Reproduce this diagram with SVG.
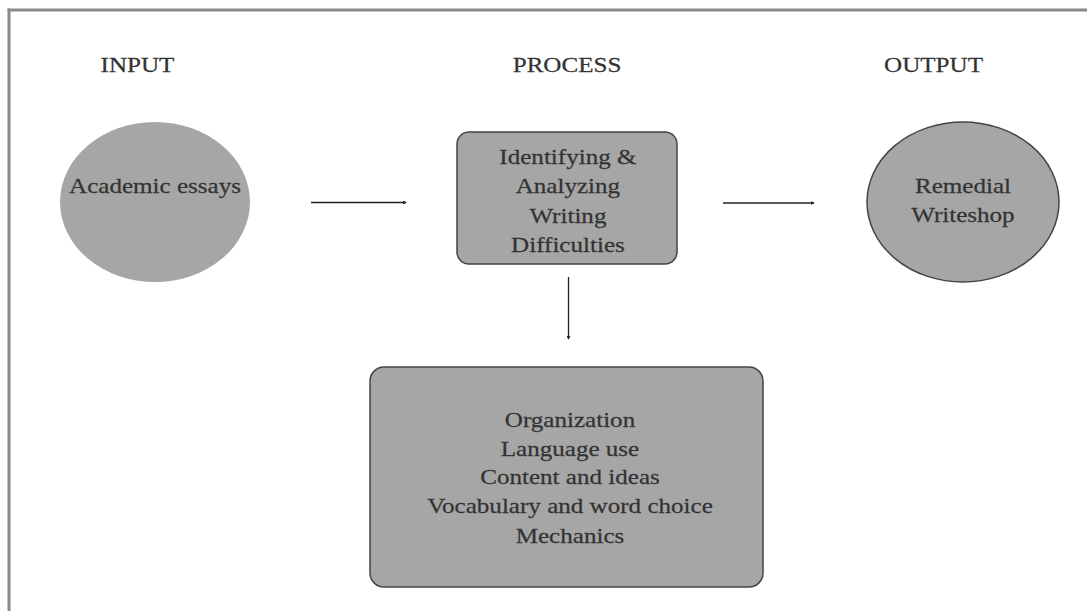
<svg xmlns="http://www.w3.org/2000/svg" width="1087" height="611" viewBox="0 0 1087 611">
<style>
.t{font-family:"Liberation Serif","Times New Roman",serif;font-size:22px;fill:#333;stroke:#333;stroke-width:0.25;text-anchor:middle}
.shape{fill:#a6a6a6}
.edge{stroke:#222;stroke-width:1.3;fill:none;marker-end:url(#dot)}
</style>
<defs>
<marker id="dot" viewBox="0 0 6 6" refX="5" refY="3" markerWidth="4" markerHeight="4" orient="auto" markerUnits="userSpaceOnUse">
<path d="M0,0 L6,3 L0,6 z" fill="#222"/>
</marker>
</defs>
<rect width="1087" height="611" fill="#fff"/>
<g id="frame" stroke="#8a8a8a" stroke-width="3" fill="none">
<line x1="7.5" y1="10" x2="1087" y2="10"/>
<line x1="9" y1="8.5" x2="9" y2="611"/>
</g>
<g id="headings">
<text class="t" transform="scale(1.14 1)" x="120.6" y="72">INPUT</text>
<text class="t" transform="scale(1.14 1)" x="497.4" y="72">PROCESS</text>
<text class="t" transform="scale(1.14 1)" x="818.9" y="72">OUTPUT</text>
</g>
<g id="input">
<ellipse class="shape" cx="155" cy="202" rx="95" ry="80"/>
<text class="t" transform="scale(1.14 1)" x="136" y="193">Academic essays</text>
</g>
<g id="process">
<rect class="shape" x="457" y="132" width="220" height="132" rx="12" stroke="#444" stroke-width="1.5"/>
<text class="t" transform="scale(1.14 1)" x="498.2" y="164">Identifying &amp;</text>
<text class="t" transform="scale(1.14 1)" x="498.2" y="193">Analyzing</text>
<text class="t" transform="scale(1.14 1)" x="498.2" y="223">Writing</text>
<text class="t" transform="scale(1.14 1)" x="498.2" y="252">Difficulties</text>
</g>
<g id="output">
<ellipse class="shape" cx="963" cy="202" rx="96" ry="80" stroke="#444" stroke-width="1.5"/>
<text class="t" transform="scale(1.14 1)" x="844.7" y="193">Remedial</text>
<text class="t" transform="scale(1.14 1)" x="844.7" y="222">Writeshop</text>
</g>
<g id="difficulties">
<rect class="shape" x="370" y="367" width="393" height="220" rx="14" stroke="#444" stroke-width="1.5"/>
<text class="t" transform="scale(1.14 1)" x="500" y="427">Organization</text>
<text class="t" transform="scale(1.14 1)" x="500" y="456">Language use</text>
<text class="t" transform="scale(1.14 1)" x="500" y="484">Content and ideas</text>
<text class="t" transform="scale(1.14 1)" x="500" y="513">Vocabulary and word choice</text>
<text class="t" transform="scale(1.14 1)" x="500" y="543">Mechanics</text>
</g>
<g id="connectors">
<line class="edge" x1="311" y1="202.5" x2="406" y2="202.5"/>
<line class="edge" x1="723" y1="203" x2="814" y2="203"/>
<line class="edge" x1="568.5" y1="277" x2="568.5" y2="339"/>
</g>
</svg>
